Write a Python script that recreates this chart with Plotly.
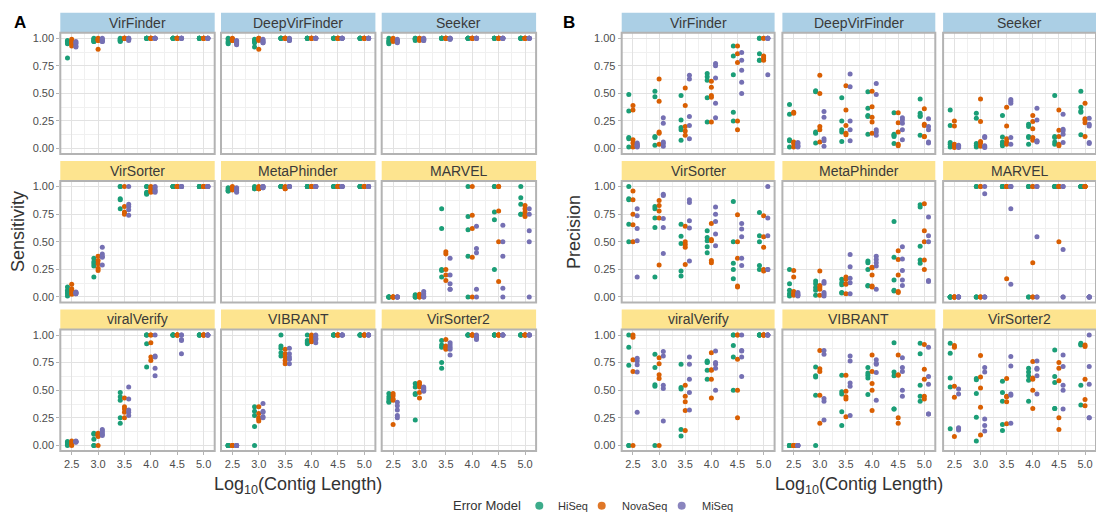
import plotly.graph_objects as go

# ---------------------------------------------------------------------------
# Data: per tool, per error model, one list of replicate values per contig
# length bin (log10 of contig length).
# ---------------------------------------------------------------------------
LOG_LEN = [2.5, 3.0, 3.5, 4.0, 4.5, 5.0]
LOG_LEN_LABELS = ["2.5", "3.0", "3.5", "4.0", "4.5", "5.0"]
MODELS = ["HiSeq", "NovaSeq", "MiSeq"]
TOOLS = ["VirFinder", "DeepVirFinder", "Seeker",
         "VirSorter", "MetaPhinder", "MARVEL",
         "viralVerify", "VIBRANT", "VirSorter2"]
Y_TICKS = [0.0, 0.25, 0.5, 0.75, 1.0]
Y_TICK_LABELS = ["0.00", "0.25", "0.50", "0.75", "1.00"]

# ---- Sensitivity ----------------------------------------------------------
sens_virfinder = {
    "HiSeq": [[0.98, 0.97, 0.96, 0.95, 0.82], [1.0, 0.99, 0.98, 0.97, 0.97], [1.0, 0.99, 0.98, 0.98, 0.97],
              [1, 1, 1, 1, 1], [1, 1, 1, 1, 1], [1, 1, 1, 1, 1]],
    "NovaSeq": [[0.99, 0.97, 0.96, 0.95, 0.93], [1.0, 0.99, 0.98, 0.98, 0.90], [1, 1, 1, 1, 1],
                [1, 1, 1, 1, 1], [1, 1, 1, 1, 1], [1, 1, 1, 1, 1]],
    "MiSeq": [[0.97, 0.96, 0.95, 0.93, 0.92], [1.0, 0.99, 0.98, 0.97, 0.97], [1.0, 1.0, 0.99, 0.99, 0.98],
              [1, 1, 1, 1, 1], [1, 1, 1, 1, 1], [1, 1, 1, 1, 1]],
}
sens_deepvirfinder = {
    "HiSeq": [[1.0, 0.99, 0.97, 0.96, 0.95], [0.99, 0.98, 0.97, 0.96, 0.92], [1, 1, 1, 1, 1],
              [1, 1, 1, 1, 1], [1, 1, 1, 1, 1], [1, 1, 1, 1, 1]],
    "NovaSeq": [[1.0, 0.99, 0.99, 0.98, 0.98], [1.0, 1.0, 0.99, 0.98, 0.90], [1, 1, 1, 1, 1],
                [1, 1, 1, 1, 1], [1, 1, 1, 1, 1], [1, 1, 1, 1, 1]],
    "MiSeq": [[0.98, 0.97, 0.96, 0.95, 0.94], [0.99, 0.98, 0.97, 0.96, 0.96], [1.0, 0.99, 0.99, 0.98, 0.98],
              [1, 1, 1, 1, 1], [1, 1, 1, 1, 1], [1, 1, 1, 1, 1]],
}
sens_seeker = {
    "HiSeq": [[1.0, 0.98, 0.97, 0.96, 0.95], [1.0, 1.0, 0.99, 0.99, 0.98], [1, 1, 1, 1, 1],
              [1, 1, 1, 1, 1], [1, 1, 1, 1, 1], [1, 1, 1, 1, 1]],
    "NovaSeq": [[1.0, 0.99, 0.99, 0.98, 0.97], [1.0, 1.0, 0.99, 0.99, 0.98], [1, 1, 1, 1, 1],
                [1, 1, 1, 1, 1], [1, 1, 1, 1, 1], [1, 1, 1, 1, 1]],
    "MiSeq": [[0.99, 0.98, 0.97, 0.97, 0.96], [1.0, 0.99, 0.99, 0.98, 0.98], [1.0, 1.0, 1.0, 0.99, 0.99],
              [1, 1, 1, 1, 1], [1, 1, 1, 1, 1], [1, 1, 1, 1, 1]],
}
sens_virsorter = {
    "HiSeq": [[0.09, 0.06, 0.045, 0.03, 0.01], [0.35, 0.32, 0.30, 0.28, 0.18], [1.0, 1.0, 0.89, 0.88, 0.80],
              [1.0, 1.0, 0.95, 0.94, 0.93], [1, 1, 1, 1, 1], [1, 1, 1, 1, 1]],
    "NovaSeq": [[0.115, 0.075, 0.06, 0.04, 0.025], [0.37, 0.33, 0.30, 0.26, 0.24], [1.0, 0.82, 0.77, 0.76, 0.75],
                [1.0, 0.99, 0.97, 0.96, 0.95], [1, 1, 1, 1, 1], [1, 1, 1, 1, 1]],
    "MiSeq": [[0.045, 0.04, 0.035, 0.03, 0.03], [0.45, 0.39, 0.37, 0.36, 0.29], [1.0, 0.84, 0.82, 0.79, 0.74],
              [1.0, 0.99, 0.97, 0.96, 0.95], [1, 1, 1, 1, 1], [1, 1, 1, 1, 1]],
}
sens_metaphinder = {
    "HiSeq": [[0.99, 0.98, 0.97, 0.96, 0.96], [1.0, 0.99, 0.99, 0.98, 0.98], [1, 1, 1, 1, 1],
              [1, 1, 1, 1, 1], [1, 1, 1, 1, 1], [1, 1, 1, 1, 1]],
    "NovaSeq": [[1.0, 0.99, 0.99, 0.98, 0.97], [1.0, 0.99, 0.98, 0.98, 0.98], [1.0, 0.99, 0.99, 0.98, 0.98],
                [1, 1, 1, 1, 1], [1, 1, 1, 1, 1], [1, 1, 1, 1, 1]],
    "MiSeq": [[0.99, 0.98, 0.97, 0.96, 0.95], [1.0, 1.0, 1.0, 0.99, 0.99], [1, 1, 1, 1, 1],
              [1, 1, 1, 1, 1], [1, 1, 1, 1, 1], [1, 1, 1, 1, 1]],
}
sens_marvel = {
    "HiSeq": [[0, 0, 0, 0, 0], [0.02, 0.015, 0.0, 0.0, 0.0], [0.80, 0.62, 0.25, 0.24, 0.18],
              [1.0, 0.73, 0.61, 0.37, 0.0], [1.0, 1.0, 0.77, 0.70, 0.25], [1.0, 0.90, 0.84, 0.75, 0.75]],
    "NovaSeq": [[0, 0, 0, 0, 0], [0.025, 0.015, 0.01, 0.0, 0.0], [0.41, 0.39, 0.25, 0.20, 0.15],
                [1.0, 0.74, 0.62, 0.36, 0.0], [1.0, 1.0, 0.78, 0.50, 0.14], [0.83, 0.80, 0.77, 0.74, 0.73]],
    "MiSeq": [[0, 0, 0, 0, 0], [0.05, 0.03, 0.01, 0.0, 0.0], [0.35, 0.20, 0.12, 0.07, 0.07],
              [0.64, 0.44, 0.40, 0.07, 0.0], [0.65, 0.50, 0.37, 0.08, 0.0], [0.80, 0.75, 0.60, 0.50, 0.0]],
}
sens_viralverify = {
    "HiSeq": [[0.035, 0.025, 0.015, 0.01, 0.0], [0.11, 0.10, 0.055, 0.0, 0.0], [0.48, 0.44, 0.41, 0.25, 0.20],
              [1.0, 1.0, 1.0, 0.92, 0.71], [1, 1, 1, 1, 1], [1, 1, 1, 1, 1]],
    "NovaSeq": [[0.04, 0.03, 0.02, 0.01, 0.0], [0.11, 0.10, 0.09, 0.08, 0.0], [0.43, 0.35, 0.33, 0.30, 0.25],
                [1.0, 1.0, 0.93, 0.80, 0.77], [1, 1, 1, 1, 1], [1, 1, 1, 1, 1]],
    "MiSeq": [[0.04, 0.035, 0.03, 0.03, 0.03], [0.145, 0.13, 0.115, 0.10, 0.09], [0.53, 0.42, 0.32, 0.30, 0.27],
              [1.0, 0.81, 0.80, 0.70, 0.63], [1.0, 1.0, 0.96, 0.95, 0.83], [1, 1, 1, 1, 1]],
}
sens_vibrant = {
    "HiSeq": [[0, 0, 0, 0, 0], [0.35, 0.31, 0.27, 0.17, 0.0], [1.0, 0.90, 0.88, 0.84, 0.81],
              [1.0, 0.95, 0.94, 0.93, 0.92], [1, 1, 1, 1, 1], [1, 1, 1, 1, 1]],
    "NovaSeq": [[0, 0, 0, 0, 0], [0.35, 0.29, 0.25, 0.24, 0.22], [0.87, 0.83, 0.80, 0.77, 0.74],
                [1.0, 0.99, 0.97, 0.96, 0.94], [1, 1, 1, 1, 1], [1, 1, 1, 1, 1]],
    "MiSeq": [[0, 0, 0, 0, 0], [0.38, 0.31, 0.30, 0.26, 0.25], [0.88, 0.83, 0.80, 0.78, 0.74],
              [1.0, 0.99, 0.97, 0.96, 0.93], [1, 1, 1, 1, 1], [1, 1, 1, 1, 1]],
}
sens_virsorter2 = {
    "HiSeq": [[0.47, 0.44, 0.42, 0.40, 0.39], [0.56, 0.53, 0.47, 0.46, 0.23], [0.95, 0.91, 0.89, 0.75, 0.70],
              [1, 1, 1, 1, 1], [1, 1, 1, 1, 1], [1, 1, 1, 1, 1]],
    "NovaSeq": [[0.47, 0.45, 0.42, 0.41, 0.19], [0.57, 0.55, 0.53, 0.48, 0.43], [0.96, 0.90, 0.89, 0.88, 0.87],
                [1, 1, 1, 1, 1], [1, 1, 1, 1, 1], [1, 1, 1, 1, 1]],
    "MiSeq": [[0.39, 0.36, 0.32, 0.27, 0.25], [0.53, 0.52, 0.51, 0.50, 0.49], [0.93, 0.91, 0.89, 0.87, 0.82],
              [1.0, 0.99, 0.98, 0.97, 0.96], [1, 1, 1, 1, 1], [1, 1, 1, 1, 1]],
}

# ---- Precision ------------------------------------------------------------
prec_virfinder = {
    "HiSeq": [[0.49, 0.34, 0.10, 0.09, 0.015], [0.52, 0.47, 0.11, 0.10, 0.03], [0.48, 0.26, 0.19, 0.17, 0.075],
              [0.68, 0.65, 0.62, 0.46, 0.24], [0.93, 0.84, 0.67, 0.33, 0.25], [1.0, 1.0, 0.86, 0.80, 0.80]],
    "NovaSeq": [[0.39, 0.35, 0.08, 0.05, 0.015], [0.63, 0.43, 0.15, 0.14, 0.04], [0.55, 0.39, 0.20, 0.16, 0.12],
                [0.61, 0.555, 0.48, 0.465, 0.24], [0.93, 0.86, 0.78, 0.25, 0.17], [1.0, 1.0, 0.84, 0.82, 0.80]],
    "MiSeq": [[0.05, 0.04, 0.03, 0.02, 0.015], [0.28, 0.23, 0.06, 0.045, 0.02], [0.665, 0.63, 0.29, 0.21, 0.09],
              [0.77, 0.75, 0.64, 0.41, 0.28], [0.87, 0.80, 0.71, 0.60, 0.50], [1.0, 1.0, 1.0, 1.0, 0.67]],
}
prec_deepvirfinder = {
    "HiSeq": [[0.40, 0.31, 0.08, 0.07, 0.015], [0.525, 0.515, 0.15, 0.14, 0.05], [0.46, 0.25, 0.17, 0.15, 0.065],
              [0.515, 0.365, 0.30, 0.29, 0.13], [0.325, 0.13, 0.12, 0.11, 0.045], [0.45, 0.32, 0.30, 0.29, 0.12]],
    "NovaSeq": [[0.33, 0.32, 0.06, 0.045, 0.015], [0.665, 0.50, 0.20, 0.17, 0.06], [0.57, 0.35, 0.21, 0.14, 0.125],
                [0.52, 0.38, 0.285, 0.24, 0.14], [0.325, 0.235, 0.15, 0.04, 0.025], [0.36, 0.22, 0.21, 0.11, 0.11]],
    "MiSeq": [[0.055, 0.045, 0.03, 0.02, 0.015], [0.335, 0.285, 0.09, 0.07, 0.02], [0.675, 0.56, 0.25, 0.17, 0.07],
              [0.59, 0.49, 0.17, 0.15, 0.12], [0.28, 0.26, 0.23, 0.17, 0.08], [0.27, 0.20, 0.17, 0.06, 0.05]],
}
prec_seeker = {
    "HiSeq": [[0.35, 0.21, 0.055, 0.04, 0.015], [0.32, 0.275, 0.045, 0.03, 0.015], [0.30, 0.105, 0.06, 0.04, 0.025],
              [0.22, 0.20, 0.11, 0.10, 0.04], [0.48, 0.11, 0.10, 0.06, 0.04], [0.52, 0.375, 0.34, 0.33, 0.125]],
    "NovaSeq": [[0.25, 0.205, 0.04, 0.025, 0.01], [0.45, 0.245, 0.065, 0.05, 0.02], [0.375, 0.205, 0.09, 0.06, 0.04],
                [0.30, 0.245, 0.18, 0.10, 0.075], [0.35, 0.165, 0.11, 0.04, 0.025], [0.41, 0.27, 0.26, 0.235, 0.11]],
    "MiSeq": [[0.03, 0.025, 0.02, 0.015, 0.01], [0.11, 0.10, 0.025, 0.015, 0.01], [0.445, 0.43, 0.41, 0.10, 0.04],
              [0.365, 0.26, 0.07, 0.065, 0.06], [0.31, 0.175, 0.16, 0.13, 0.055], [0.275, 0.22, 0.205, 0.055, 0.045]],
}
prec_virsorter = {
    "HiSeq": [[1.0, 0.89, 0.88, 0.66, 0.50], [0.82, 0.80, 0.715, 0.63, 0.18], [0.66, 0.55, 0.485, 0.235, 0.19],
              [0.60, 0.54, 0.51, 0.455, 0.40], [0.865, 0.50, 0.305, 0.25, 0.165], [0.765, 0.555, 0.50, 0.285, 0.25]],
    "NovaSeq": [[0.96, 0.88, 0.75, 0.655, 0.50], [0.875, 0.83, 0.78, 0.715, 0.29], [0.64, 0.50, 0.475, 0.45, 0.295],
                [0.665, 0.52, 0.51, 0.33, 0.31], [0.745, 0.50, 0.35, 0.10, 0.09], [0.735, 0.545, 0.45, 0.25, 0.235]],
    "MiSeq": [[0.80, 0.735, 0.62, 0.51, 0.18], [0.93, 0.92, 0.71, 0.63, 0.395], [0.88, 0.855, 0.69, 0.625, 0.325],
              [0.815, 0.75, 0.685, 0.57, 0.465], [0.665, 0.615, 0.545, 0.35, 0.285], [1.0, 0.715, 0.555, 0.25, 0.25]],
}
prec_metaphinder = {
    "HiSeq": [[0.25, 0.12, 0.06, 0.03, 0.01], [0.145, 0.12, 0.085, 0.06, 0.015], [0.16, 0.13, 0.11, 0.04, 0.035],
              [0.325, 0.31, 0.25, 0.105, 0.10], [0.685, 0.36, 0.155, 0.06, 0.055], [0.835, 0.815, 0.46, 0.335, 0.305]],
    "NovaSeq": [[0.24, 0.18, 0.05, 0.03, 0.015], [0.235, 0.105, 0.09, 0.07, 0.015], [0.18, 0.16, 0.12, 0.115, 0.03],
                [0.27, 0.265, 0.20, 0.10, 0.09], [0.42, 0.34, 0.20, 0.05, 0.04], [0.845, 0.60, 0.50, 0.335, 0.25]],
    "MiSeq": [[0.04, 0.03, 0.02, 0.015, 0.01], [0.14, 0.125, 0.04, 0.025, 0.01], [0.385, 0.275, 0.17, 0.13, 0.03],
              [0.37, 0.34, 0.31, 0.28, 0.07], [0.455, 0.345, 0.24, 0.155, 0.105], [0.725, 0.555, 0.50, 0.15, 0.14]],
}
prec_marvel = {
    "HiSeq": [[0, 0, 0, 0, 0], [1, 1, 0, 0, 0], [1, 1, 1, 1, 1],
              [1, 1, 1, 0, 0], [1, 1, 1, 1, 1], [1, 1, 1, 1, 1]],
    "NovaSeq": [[0, 0, 0, 0, 0], [1, 1, 0, 0, 0], [1, 1, 1, 1, 0.165],
                [1, 1, 0.31, 0, 0], [1, 1, 1, 1, 0.50], [1, 1, 1, 1, 1]],
    "MiSeq": [[0, 0, 0, 0, 0], [1, 0.935, 0, 0, 0], [1, 1, 1, 0.80, 0.115],
              [1, 1, 0.545, 0, 0], [1, 1, 0.43, 0, 0], [0, 0, 0, 0, 0]],
}
prec_viralverify = {
    "HiSeq": [[1.0, 0.89, 0.725, 0.0, 0.0], [0.825, 0.705, 0.55, 0.535, 0.0], [0.735, 0.525, 0.51, 0.145, 0.085],
              [0.765, 0.755, 0.75, 0.68, 0.60], [1.0, 1.0, 0.905, 0.80, 0.50], [1, 1, 1, 1, 1]],
    "NovaSeq": [[1.0, 0.98, 0.775, 0.67, 0.0], [0.795, 0.74, 0.64, 0.605, 0.0], [0.545, 0.445, 0.395, 0.315, 0.135],
                [0.84, 0.685, 0.68, 0.60, 0.43], [1.0, 1.0, 0.78, 0.50, 0.25], [1, 1, 1, 1, 1]],
    "MiSeq": [[0.79, 0.765, 0.73, 0.665, 0.30], [0.85, 0.81, 0.545, 0.515, 0.22], [0.80, 0.735, 0.60, 0.48, 0.32],
              [0.855, 0.75, 0.735, 0.70, 0.50], [1.0, 0.86, 0.855, 0.80, 0.625], [1, 1, 1, 1, 1]],
}
prec_vibrant = {
    "HiSeq": [[0, 0, 0, 0, 0], [0.71, 0.63, 0.62, 0.455, 0.0], [0.635, 0.485, 0.465, 0.305, 0.18],
              [0.705, 0.655, 0.635, 0.61, 0.46], [0.93, 0.665, 0.63, 0.33, 0.33], [0.925, 0.83, 0.545, 0.445, 0.40]],
    "NovaSeq": [[0, 0, 0, 0, 0], [0.86, 0.695, 0.67, 0.455, 0.20], [0.635, 0.49, 0.44, 0.42, 0.26],
                [0.82, 0.67, 0.56, 0.50, 0.315], [0.82, 0.64, 0.635, 0.25, 0.20], [0.915, 0.69, 0.60, 0.445, 0.42]],
    "MiSeq": [[0, 0, 0, 0, 0], [0.86, 0.825, 0.425, 0.40, 0.23], [0.81, 0.765, 0.565, 0.535, 0.27],
              [0.775, 0.745, 0.735, 0.66, 0.41], [0.795, 0.705, 0.67, 0.50, 0.445], [0.89, 0.625, 0.555, 0.285, 0.285]],
}
prec_virsorter2 = {
    "HiSeq": [[0.925, 0.835, 0.61, 0.53, 0.15], [0.605, 0.595, 0.47, 0.255, 0.04], [0.58, 0.48, 0.40, 0.19, 0.135],
              [0.70, 0.665, 0.63, 0.59, 0.40], [0.865, 0.625, 0.57, 0.335, 0.335], [0.925, 0.915, 0.91, 0.545, 0.365]],
    "NovaSeq": [[0.905, 0.89, 0.535, 0.435, 0.08], [0.815, 0.62, 0.52, 0.345, 0.095], [0.605, 0.445, 0.44, 0.395, 0.195],
                [0.76, 0.61, 0.60, 0.50, 0.335], [0.75, 0.70, 0.585, 0.25, 0.145], [0.91, 0.895, 0.60, 0.415, 0.36]],
    "MiSeq": [[0.51, 0.465, 0.16, 0.15, 0.14], [0.705, 0.665, 0.24, 0.18, 0.13], [0.805, 0.72, 0.465, 0.455, 0.20],
              [0.765, 0.70, 0.69, 0.63, 0.465], [0.82, 0.715, 0.545, 0.50, 0.33], [1.0, 0.715, 0.555, 0.25, 0.25]],
}

SENSITIVITY = {
    "VirFinder": sens_virfinder, "DeepVirFinder": sens_deepvirfinder, "Seeker": sens_seeker,
    "VirSorter": sens_virsorter, "MetaPhinder": sens_metaphinder, "MARVEL": sens_marvel,
    "viralVerify": sens_viralverify, "VIBRANT": sens_vibrant, "VirSorter2": sens_virsorter2,
}
PRECISION = {
    "VirFinder": prec_virfinder, "DeepVirFinder": prec_deepvirfinder, "Seeker": prec_seeker,
    "VirSorter": prec_virsorter, "MetaPhinder": prec_metaphinder, "MARVEL": prec_marvel,
    "viralVerify": prec_viralverify, "VIBRANT": prec_vibrant, "VirSorter2": prec_virsorter2,
}

# ---------------------------------------------------------------------------
# Styling and layout geometry (pixels)
# ---------------------------------------------------------------------------
W, H = 1096, 513
FONT = "Liberation Sans, Arial, Helvetica, sans-serif"
MODEL_COLORS = {"HiSeq": "#1b9e77", "NovaSeq": "#d95f02", "MiSeq": "#7570b3"}
DODGE = {"HiSeq": -0.08, "NovaSeq": 0.0, "MiSeq": 0.08}
STRIP_BLUE = "#abcfe5"
STRIP_YELLOW = "#fde48f"
BORDER = "#b3b3b3"
GRID_MAJOR = "#e2e2e2"
GRID_MINOR = "#f0f0f0"
X_RANGE = [2.284, 5.21]
Y_RANGE = [-0.05, 1.05]

A_LEFT = [60.3, 221.0, 381.7]
A_W = 154.4
B_LEFT = [621.7, 782.4, 943.1]
B_W = 152.9
STRIP_TOP = [12.7, 161.1, 309.5]
STRIP_H = 19.8
PANEL_OFF = 20.0
PANEL_H = 121.4


def px(x):
    return x / W


def py(y):
    return 1 - y / H


fig = go.Figure()
layout = dict(
    width=W, height=H, autosize=False,
    margin=dict(l=0, r=0, t=0, b=0),
    paper_bgcolor="white", plot_bgcolor="white",
    showlegend=False,
    font=dict(family=FONT, color="#4d4d4d"),
)
shapes = []
annotations = []

n = 0
for metric, lefts, pw in [(SENSITIVITY, A_LEFT, A_W), (PRECISION, B_LEFT, B_W)]:
    for idx, tool in enumerate(TOOLS):
        r, c = divmod(idx, 3)
        n += 1
        xname = "x" if n == 1 else f"x{n}"
        yname = "y" if n == 1 else f"y{n}"
        left = lefts[c]
        top = STRIP_TOP[r] + PANEL_OFF
        bottom = top + PANEL_H

        layout["xaxis" if n == 1 else f"xaxis{n}"] = dict(
            domain=[px(left), px(left + pw)], anchor=yname, range=X_RANGE,
            tickmode="array", tickvals=LOG_LEN, ticktext=LOG_LEN_LABELS,
            showticklabels=(r == 2), ticks="outside" if r == 2 else "",
            ticklen=3, tickwidth=1, tickcolor=BORDER,
            tickfont=dict(size=11, color="#4d4d4d", family=FONT),
            showgrid=True, gridcolor=GRID_MAJOR, gridwidth=1,
            minor=dict(tickvals=[2.75, 3.25, 3.75, 4.25, 4.75], showgrid=True,
                       gridcolor=GRID_MINOR, gridwidth=1, ticks=""),
            zeroline=False, showline=False, fixedrange=True,
        )
        layout["yaxis" if n == 1 else f"yaxis{n}"] = dict(
            domain=[py(bottom), py(top)], anchor=xname, range=Y_RANGE,
            tickmode="array", tickvals=Y_TICKS, ticktext=Y_TICK_LABELS,
            showticklabels=(c == 0), ticks="outside" if c == 0 else "",
            ticklen=3, tickwidth=1, tickcolor=BORDER,
            tickfont=dict(size=11, color="#4d4d4d", family=FONT),
            showgrid=True, gridcolor=GRID_MAJOR, gridwidth=1,
            minor=dict(tickvals=[0.125, 0.375, 0.625, 0.875], showgrid=True,
                       gridcolor=GRID_MINOR, gridwidth=1, ticks=""),
            zeroline=False, showline=False, fixedrange=True,
        )

        for m in MODELS:
            xs, ys = [], []
            for loglen, vals in zip(LOG_LEN, metric[tool][m]):
                for v in vals:
                    xs.append(loglen + DODGE[m])
                    ys.append(v)
            fig.add_trace(go.Scatter(
                x=xs, y=ys, xaxis=xname, yaxis=yname, mode="markers", name=m,
                marker=dict(size=5, color=MODEL_COLORS[m], line=dict(width=0)),
                hoverinfo="skip", showlegend=False,
            ))

        # panel border
        shapes.append(dict(
            type="rect", xref="paper", yref="paper",
            x0=px(left), x1=px(left + pw), y0=py(bottom), y1=py(top),
            line=dict(color=BORDER, width=2), fillcolor="rgba(0,0,0,0)", layer="above",
        ))
        # facet strip
        shapes.append(dict(
            type="rect", xref="paper", yref="paper",
            x0=px(left), x1=px(left + pw), y0=py(STRIP_TOP[r] + STRIP_H), y1=py(STRIP_TOP[r]),
            line=dict(width=0), fillcolor=STRIP_BLUE if r == 0 else STRIP_YELLOW, layer="below",
        ))
        annotations.append(dict(
            text=tool, xref="paper", yref="paper",
            x=px(left + pw / 2), y=py(STRIP_TOP[r] + STRIP_H / 2),
            xanchor="center", yanchor="middle", showarrow=False,
            font=dict(size=14, color="#3a3a3a", family=FONT),
        ))

# panel tags and axis titles
for tag, x in [("A", 20), ("B", 569)]:
    annotations.append(dict(
        text=f"<b>{tag}</b>", xref="paper", yref="paper", x=px(x), y=py(23),
        xanchor="center", yanchor="middle", showarrow=False,
        font=dict(size=17, color="black", family=FONT),
    ))
for title, x in [("Sensitivity", 18), ("Precision", 574)]:
    annotations.append(dict(
        text=title, xref="paper", yref="paper", x=px(x), y=py(232),
        xanchor="center", yanchor="middle", textangle=-90, showarrow=False,
        font=dict(size=18, color="#333333", family=FONT),
    ))
for xc in [(A_LEFT[0] + A_LEFT[2] + A_W) / 2, (B_LEFT[0] + B_LEFT[2] + B_W) / 2]:
    annotations.append(dict(
        text="Log<sub>10</sub>(Contig Length)", xref="paper", yref="paper",
        x=px(xc), y=py(485), xanchor="center", yanchor="middle", showarrow=False,
        font=dict(size=18, color="#333333", family=FONT),
    ))

# legend
LEG_Y = 505.7
annotations.append(dict(
    text="Error Model", xref="paper", yref="paper", x=px(486.7), y=py(LEG_Y),
    xanchor="center", yanchor="middle", showarrow=False,
    font=dict(size=13, color="#333333", family=FONT),
))
for m, cx, tx in [("HiSeq", 539.3, 556.0), ("NovaSeq", 601.7, 619.5), ("MiSeq", 681.7, 699.5)]:
    rad = 4.0
    shapes.append(dict(
        type="circle", xref="paper", yref="paper",
        x0=px(cx - rad), x1=px(cx + rad), y0=py(LEG_Y + rad), y1=py(LEG_Y - rad),
        line=dict(width=0), fillcolor=MODEL_COLORS[m], opacity=0.85,
    ))
    annotations.append(dict(
        text=m, xref="paper", yref="paper", x=px(tx), y=py(LEG_Y),
        xanchor="left", yanchor="middle", showarrow=False,
        font=dict(size=11, color="#333333", family=FONT),
    ))

layout["shapes"] = shapes
layout["annotations"] = annotations
fig.update_layout(**layout)
fig.write_html("out.html")
